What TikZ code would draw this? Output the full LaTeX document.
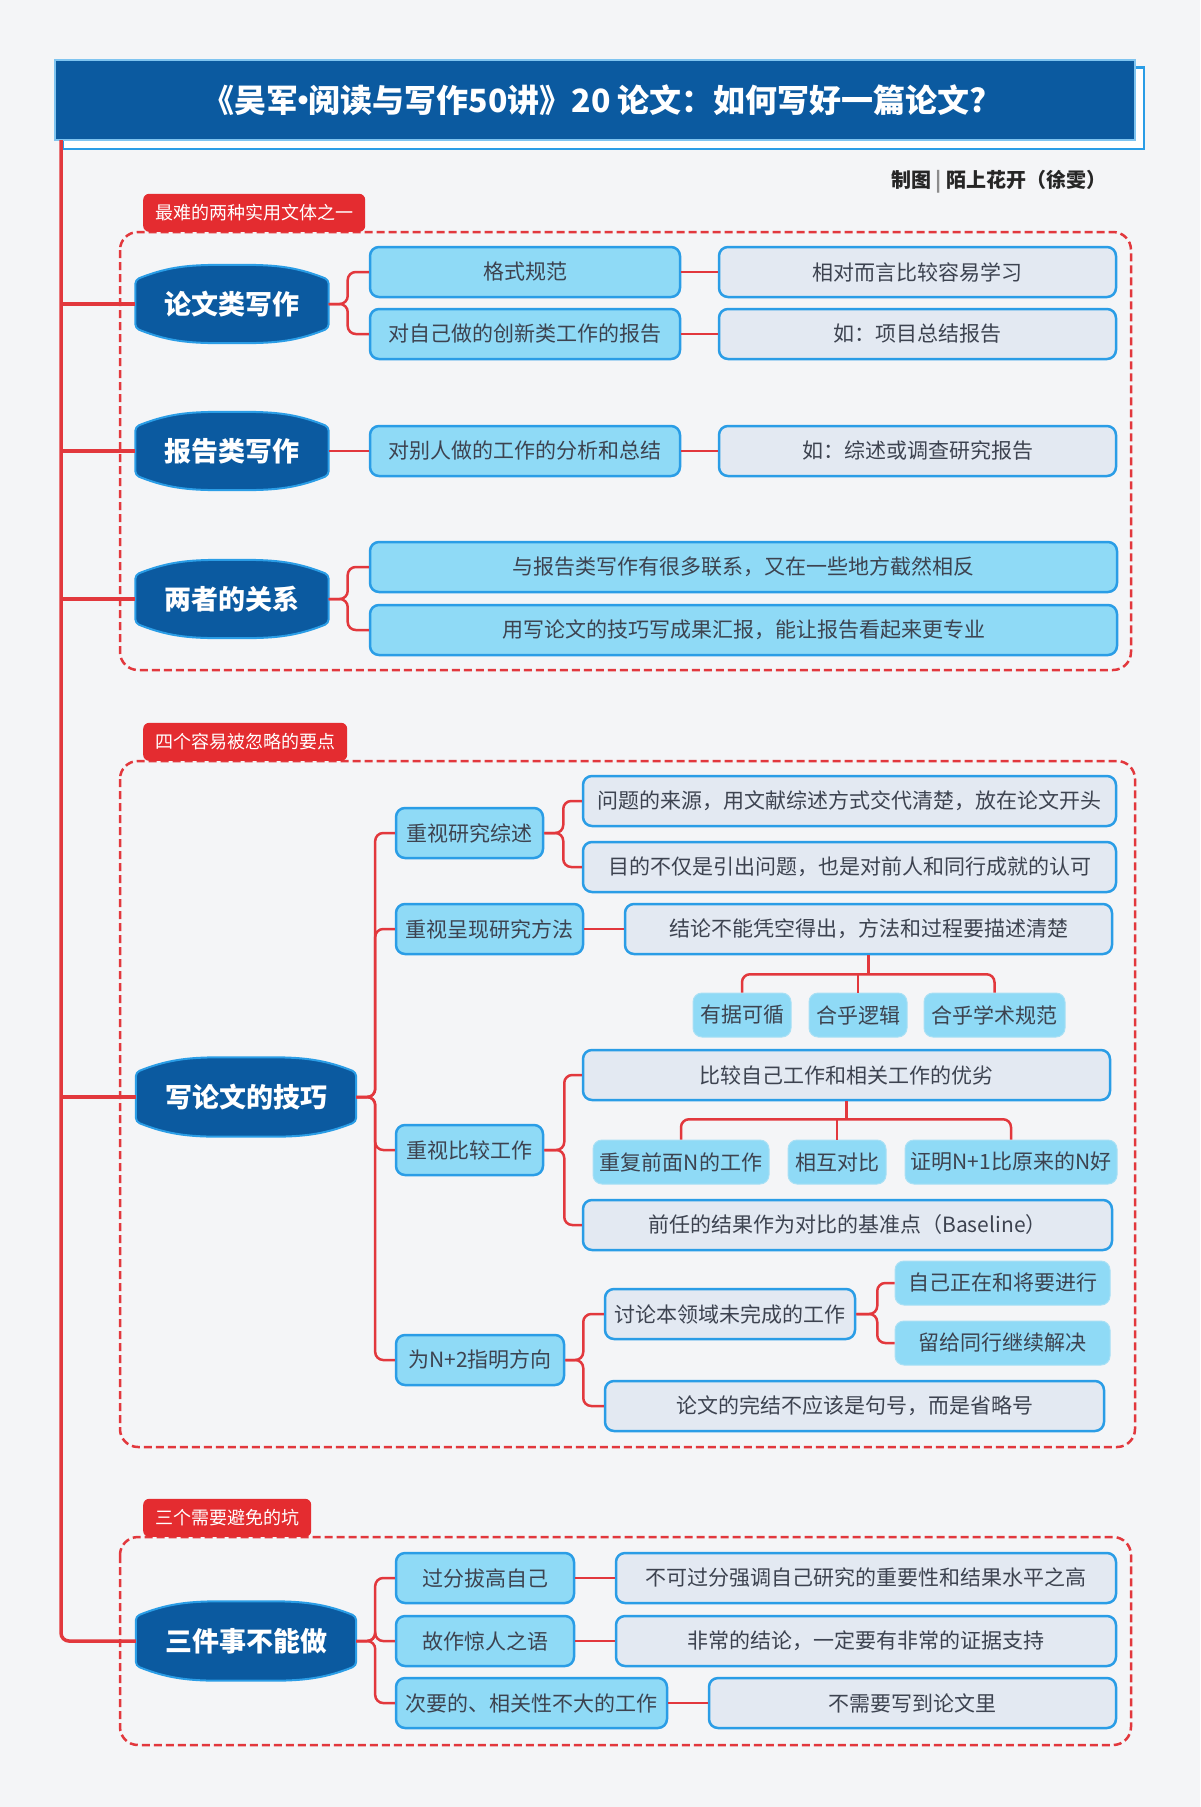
\documentclass[tikz,border=0pt]{standalone}
\usepackage{fontspec}
\setmainfont{Noto Sans CJK SC}
\usetikzlibrary{calc}

\pgfdeclarelayer{back}
\pgfdeclarelayer{background}
\pgfsetlayers{back,background,main}

\definecolor{bgpage}{HTML}{F4F5F7}
\definecolor{navy}{HTML}{0B5AA0}
\definecolor{skyline}{HTML}{2A9DE6}
\definecolor{cyanfill}{HTML}{8FDAF6}
\definecolor{greyfill}{HTML}{E3E9F2}
\definecolor{leafline}{HTML}{A8E0F5}
\definecolor{redline}{HTML}{E2383D}
\definecolor{tagred}{HTML}{E42C30}
\definecolor{inktext}{HTML}{3D4350}

\newcommand\sz[1]{\fontsize{#1}{#1}\selectfont}

\begin{document}
\begin{tikzpicture}[x=1pt,y=-1pt,
	titlebar/.style={fill=navy,draw=skyline!60,line width=1.5pt,text=white,font=\sz{32}\bfseries,minimum width=1080pt,minimum height=80pt},
	shadowbar/.style={draw=skyline,line width=2.5pt,fill=white},
	byline/.style={font=\sz{20}\bfseries,text=black!85},
	tag/.style={fill=tagred,text=white,font=\sz{18},rounded corners=6pt,minimum height=38pt,inner xsep=12pt,anchor=south west},
	zone/.style={draw=redline,line width=2.5pt,dash pattern=on 8pt off 4pt,rounded corners=18pt},
	topic/.style={text=white,font=\sz{27}\bfseries,minimum height=78pt,minimum width=193pt},
	topicfill/.style={fill=navy,draw=skyline,line width=2pt,rounded corners=4pt},
	lvtwo/.style={fill=cyanfill,draw=skyline,line width=2.5pt,rounded corners=9pt,text=inktext,font=\sz{21},minimum height=50pt},
	lvthree/.style={lvtwo,fill=greyfill},
	leaf/.style={fill=cyanfill,draw=leafline,line width=1pt,rounded corners=9pt,text=inktext,font=\sz{21},minimum height=44pt},
	link/.style={draw=redline,line width=2.5pt,rounded corners=8pt},
	trunk/.style={link,line width=3.5pt}]

\begin{pgfonlayer}{back}
\fill[bgpage] (0,0) rectangle (1200,1807);
\end{pgfonlayer}
\useasboundingbox (0,0) rectangle (1200,1807);

\def\blob#1{
	\draw[topicfill] ([yshift=-15pt]#1.north west) to[out=22,in=180] (#1.north) to[out=0,in=158] ([yshift=-15pt]#1.north east)
		-- ([yshift=15pt]#1.south east) to[out=-158,in=0] (#1.south) to[out=180,in=-22] ([yshift=15pt]#1.south west) -- cycle;
}

% title
\node[titlebar] (title) at (595,100) {《吴军\kern-0.35em·\kern-0.35em阅读与写作50讲》20 论文：如何写好一篇论文?};
\node[byline,anchor=east] (byline) at (1110,182) {制图 {\color{black!45}|} 陌上花开（徐雯）};

% part 1
\draw[zone] (120,232) rectangle (1131,670);
\node[tag] (tag1) at (143,232) {最难的两种实用文体之一};

\node[topic] (t1) at (232,304) {论文类写作};
\node[lvtwo,minimum width=310pt] (a1) at (525,272) {格式规范};
\node[lvtwo,minimum width=310pt] (a2) at (525,334) {对自己做的创新类工作的报告};
\node[lvthree,minimum width=397pt] (b1) at (917.5,272) {相对而言比较容易学习};
\node[lvthree,minimum width=397pt] (b2) at (917.5,334) {如：项目总结报告};

\node[topic] (t2) at (232,451) {报告类写作};
\node[lvtwo,minimum width=310pt] (a3) at (525,451) {对别人做的工作的分析和总结};
\node[lvthree,minimum width=397pt] (b3) at (917.5,451) {如：综述或调查研究报告};

\node[topic] (t3) at (232,599) {两者的关系};
\node[lvtwo,minimum width=747pt] (a4) at (743.5,567) {与报告类写作有很多联系，又在一些地方截然相反};
\node[lvtwo,minimum width=747pt] (a5) at (743.5,630) {用写论文的技巧写成果汇报，能让报告看起来更专业};

\foreach \a in {a1,a2} \draw[link] (t1.east) -- ++(19,0) |- (\a.west);
\foreach \a in {a4,a5} \draw[link] (t3.east) -- ++(19,0) |- (\a.west);
\foreach \a/\b in {t2/a3,a1/b1,a2/b2,a3/b3} \draw[link] (\a) -- (\b);

% part 2
\draw[zone] (120,761) rectangle (1135,1447);
\node[tag] (tag2) at (143,761) {四个容易被忽略的要点};

\node[topic,minimum width=220pt,minimum height=79pt] (t4) at (246,1097) {写论文的技巧};

\node[lvtwo,minimum width=147pt] (c1) at (469.5,833) {重视研究综述};
\node[lvthree,minimum width=533pt] (d1) at (849.5,801) {问题的来源，用文献综述方式交代清楚，放在论文开头};
\node[lvthree,minimum width=533pt] (d2) at (849.5,867) {目的不仅是引出问题，也是对前人和同行成就的认可};

\node[lvtwo,minimum width=187pt] (c2) at (489.5,929) {重视呈现研究方法};
\node[lvthree,minimum width=487pt] (d3) at (868.5,929) {结论不能凭空得出，方法和过程要描述清楚};
\node[leaf,minimum width=98pt] (e1) at (742,1015) {有据可循};
\node[leaf,minimum width=98pt] (e2) at (858,1015) {合乎逻辑};
\node[leaf,minimum width=141pt] (e3) at (994.5,1015) {合乎学术规范};

\node[lvtwo,minimum width=147pt] (c3) at (469.5,1150) {重视比较工作};
\node[lvthree,minimum width=527pt] (d4) at (846.5,1075) {比较自己工作和相关工作的优劣};
\node[leaf,minimum width=176pt] (e4) at (681,1162) {重复前面N的工作};
\node[leaf,minimum width=98pt] (e5) at (837,1162) {相互对比};
\node[leaf,minimum width=212pt] (e6) at (1011,1162) {证明N+1比原来的N好};
\node[lvthree,minimum width=529pt] (d5) at (847.5,1225) {前任的结果作为对比的基准点（Baseline）};

\node[lvtwo,minimum width=168pt] (c4) at (480,1360) {为N+2指明方向};
\node[lvthree,minimum width=250pt] (d6) at (730,1314) {讨论本领域未完成的工作};
\node[leaf,minimum width=215pt] (e7) at (1002.5,1283) {自己正在和将要进行};
\node[leaf,minimum width=215pt] (e8) at (1002.5,1343) {留给同行继续解决};
\node[lvthree,minimum width=499pt] (d7) at (854.5,1406) {论文的完结不应该是句号，而是省略号};

\foreach \c in {c1,c2,c3,c4} \draw[link] (t4.east) -- ++(19,0) |- (\c.west);
\foreach \d in {d1,d2} \draw[link] (c1.east) -- ++(19,0) |- (\d.west);
\foreach \d in {d4,d5} \draw[link] (c3.east) -- ++(20,0) |- (\d.west);
\foreach \d in {d6,d7} \draw[link] (c4.east) -- ++(18,0) |- (\d.west);
\foreach \e in {e7,e8} \draw[link] (d6.east) -- ++(21,0) |- (\e.west);
\draw[link] (c2) -- (d3);

\draw[link] (d3.south) -- ++(0,19) coordinate (fork3);
\draw[link] (e1.north) |- (fork3) -| (e3.north);
\draw[link] (e2.north) -- (e2.north |- fork3);

\draw[link] (d4.south) -- ++(0,18) coordinate (fork4);
\draw[link] (e4.north) |- (fork4) -| (e6.north);
\draw[link] (e5.north) -- (e5.north |- fork4);

% part 3
\draw[zone] (120,1537) rectangle (1131,1745);
\node[tag] (tag3) at (143,1537) {三个需要避免的坑};

\node[topic,minimum width=220pt,minimum height=79pt] (t5) at (246,1641) {三件事不能做};
\node[lvtwo,minimum width=178pt] (c5) at (485,1578) {过分拔高自己};
\node[lvthree,minimum width=500pt] (f1) at (866,1578) {不可过分强调自己研究的重要性和结果水平之高};
\node[lvtwo,minimum width=178pt] (c6) at (485,1641) {故作惊人之语};
\node[lvthree,minimum width=500pt] (f2) at (866,1641) {非常的结论，一定要有非常的证据支持};
\node[lvtwo,minimum width=271pt] (c7) at (531.5,1703) {次要的、相关性不大的工作};
\node[lvthree,minimum width=407pt] (f3) at (912.5,1703) {不需要写到论文里};

\foreach \c in {c5,c6,c7} \draw[link] (t5.east) -- ++(19,0) |- (\c.west);
\foreach \c/\f in {c5/f1,c6/f2,c7/f3} \draw[link] (\c) -- (\f);

% trunk
\coordinate (root) at (61,140);
\draw[trunk] (root) |- (t5.west);
\foreach \t in {t1,t2,t3,t4} \draw[trunk] (root |- \t.west) -- (\t.west);

\begin{pgfonlayer}{background}
\foreach \t in {t1,t2,t3,t4,t5}{\blob{\t}}
\draw[shadowbar] ([shift={(8,8)}]title.north west) rectangle ([shift={(8,8)}]title.south east);
\end{pgfonlayer}

\end{tikzpicture}
\end{document}
